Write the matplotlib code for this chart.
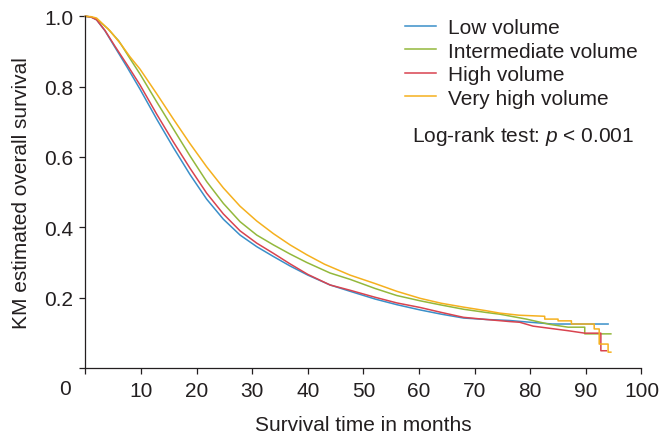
import matplotlib
matplotlib.use("Agg")
import matplotlib.pyplot as plt

plt.rcParams["font.family"] = ["Liberation Sans", "DejaVu Sans"]
plt.rcParams["mathtext.fontset"] = "custom"
plt.rcParams["mathtext.it"] = "Liberation Sans:italic"
plt.rcParams["mathtext.rm"] = "Liberation Sans"

# valores (meses, sobrevida KM)
t_low = [0, 1, 2, 3.5, 5.3, 7.5, 9.8, 12.8, 15.8, 18.8, 21.8, 24.8, 27.8, 30.8, 33.8,
         36.8, 40, 44, 47.6, 52.1, 56, 60.2, 64, 68, 72, 76.3, 80, 84, 94]
s_low = [1.0, 0.998, 0.99, 0.959, 0.912, 0.855, 0.793, 0.708, 0.627, 0.550, 0.480,
         0.423, 0.378, 0.345, 0.317, 0.290, 0.264, 0.236, 0.218, 0.196, 0.180, 0.165,
         0.153, 0.142, 0.138, 0.135, 0.13, 0.125, 0.125]

t_inter = [0, 1, 2, 4, 6, 8, 9.8, 12.8, 15.8, 18.8, 21.8, 24.8, 27.8, 30.8, 33.8, 36.8,
           39.8, 44, 47.6, 52.1, 56, 60.2, 64, 68, 72, 74.5, 79.3, 83.5, 86.8, 89.8,
           89.8, 94.5]
s_inter = [1.0, 0.998, 0.992, 0.965, 0.93, 0.88, 0.836, 0.757, 0.680, 0.603, 0.530,
           0.468, 0.416, 0.378, 0.350, 0.324, 0.300, 0.270, 0.252, 0.226, 0.206, 0.191,
           0.179, 0.167, 0.158, 0.153, 0.139, 0.124, 0.116, 0.116, 0.097, 0.097]

t_high = [0, 1, 2, 3.5, 5.3, 7.5, 9.8, 12.8, 15.8, 18.8, 21.8, 24.8, 27.8, 30.8, 33.8,
          36.8, 40, 44, 47.6, 52.1, 56, 60.2, 64, 68, 72, 76.3, 78.1, 80.5, 86.8, 89.8,
          92.7, 92.7, 93.7]
s_high = [1.0, 0.998, 0.99, 0.96, 0.915, 0.862, 0.805, 0.722, 0.643, 0.568, 0.497,
          0.438, 0.390, 0.355, 0.326, 0.296, 0.266, 0.236, 0.221, 0.201, 0.185, 0.172,
          0.158, 0.144, 0.138, 0.132, 0.13, 0.119, 0.106, 0.099, 0.099, 0.049, 0.049]

t_vhigh = [0, 1, 2, 4.4, 6.5, 8, 9.8, 12.8, 15.8, 18.8, 21.8, 24.8, 27.8, 30.8, 33.8,
           36.8, 39.8, 43, 47.6, 52.1, 56, 60.2, 64, 68, 72, 74.5, 78, 82.6, 82.6, 85,
           85, 87.4, 87.4, 91.5, 91.5, 92.4, 92.4, 94, 94, 94.5]
s_vhigh = [1.0, 0.999, 0.995, 0.959, 0.918, 0.885, 0.85, 0.78, 0.708, 0.638, 0.572,
           0.512, 0.460, 0.418, 0.382, 0.350, 0.322, 0.295, 0.264, 0.240, 0.218, 0.198,
           0.184, 0.173, 0.163, 0.156, 0.15, 0.147, 0.139, 0.139, 0.134, 0.134, 0.125,
           0.125, 0.111, 0.111, 0.068, 0.068, 0.045, 0.045]

grupos = ["Low volume", "Intermediate volume", "High volume", "Very high volume"]
cores = ["#3a8fc9", "#93b83c", "#d9434f", "#f5b01e"]
tempos = [t_low, t_inter, t_high, t_vhigh]
sobrevida = [s_low, s_inter, s_high, s_vhigh]

fig = plt.figure(figsize=(6.6, 4.39), dpi=100)
ax = fig.add_axes([0.1295, 0.1595, 0.8424, 0.8011])

for t, s, cor, nome in zip(tempos, sobrevida, cores, grupos):
    ax.plot(t, s, color=cor, lw=1.1, label=nome, clip_on=False)

escuro = "#231f20"
ax.set_xlim(0, 100)
ax.set_ylim(0, 1)
ax.spines["top"].set_visible(False)
ax.spines["right"].set_visible(False)
for lado in ["left", "bottom"]:
    ax.spines[lado].set_color(escuro)
    ax.spines[lado].set_linewidth(0.9)

ax.set_xticks(range(0, 101, 10))
ax.set_xticklabels([""] + [str(v) for v in range(10, 101, 10)])
ax.set_yticks([0, 0.2, 0.4, 0.6, 0.8, 1.0])
ax.set_yticklabels(["", "0.2", "0.4", "0.6", "0.8", "1.0"])
ax.tick_params(axis="x", direction="out", length=4.5, width=0.9, color=escuro,
               labelsize=15, labelcolor=escuro, pad=5)
ax.tick_params(axis="y", direction="out", length=4.5, width=0.9, color=escuro,
               labelsize=15, labelcolor=escuro, pad=4.3)
fig.text(64.7 / 660, 1 - 389.5 / 439, "0", ha="center", va="center", fontsize=15,
         color=escuro)

ax.set_xlabel("Survival time in months", fontsize=15, color=escuro)
ax.xaxis.set_label_coords(0.5, -0.1325)
ax.set_ylabel("KM estimated overall survival", fontsize=15, color=escuro)
ax.yaxis.set_label_coords(-0.098, 0.5)

fig.legend(loc="upper left", bbox_to_anchor=(405 / 660, 1 - 19 / 439), frameon=False,
           fontsize=15, handlelength=1.5, handletextpad=0.57, labelspacing=0.22,
           borderpad=0, borderaxespad=0, labelcolor=escuro)

fig.text(411.7 / 660, 1 - 136.7 / 439, "Log-rank test: $p$ < 0.001", ha="left",
         va="center", fontsize=15, color=escuro)

fig.savefig("out.png", dpi=100)
